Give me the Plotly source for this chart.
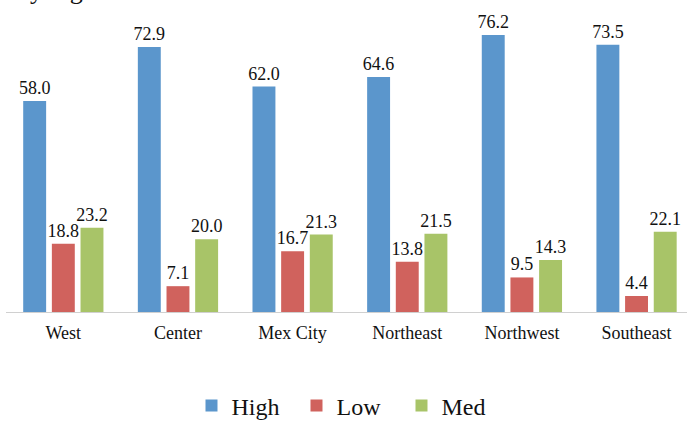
import plotly.graph_objects as go

regions = ["West", "Center", "Mex City", "Northeast", "Northwest", "Southeast"]
high = [58.0, 72.9, 62.0, 64.6, 76.2, 73.5]
low = [18.8, 7.1, 16.7, 13.8, 9.5, 4.4]
med = [23.2, 20.0, 21.3, 21.5, 14.3, 22.1]

series = [("High", high, "#5b96cc"), ("Low", low, "#d0625d"), ("Med", med, "#a8c468")]

FONT = "Liberation Serif, Times New Roman, serif"
fig = go.Figure()
for name, vals, color in series:
    fig.add_trace(go.Bar(
        name=name, x=regions, y=vals, marker=dict(color=color, line=dict(width=0)),
        text=[f"{v:.1f}" for v in vals], textposition="outside",
        textfont=dict(family=FONT, size=18, color="#111111"),
        constraintext="none", cliponaxis=False,
    ))

fig.add_annotation(text="by region", xref="paper", yref="paper", x=0, y=1,
                   xanchor="left", yanchor="bottom", yshift=-7, xshift=9, showarrow=False,
                   font=dict(family=FONT, size=26, color="#111111"))

fig.update_layout(
    width=687, height=422,
    margin=dict(l=6, r=0, t=0, b=110, autoexpand=False),
    barmode="group", bargap=0.25, bargroupgap=0.2,
    plot_bgcolor="white", paper_bgcolor="white",
    font=dict(family=FONT, color="#111111"),
    showlegend=True,
    legend=dict(orientation="h", xref="container", yref="container",
                x=0.508, xanchor="center", y=0.038, yanchor="middle",
                font=dict(family=FONT, size=24, color="#111111"), itemwidth=30,
                entrywidth=60, traceorder="normal"),
    xaxis=dict(range=[-0.5, 5.44], showline=True, linecolor="#d0d0d0", linewidth=1,
               automargin=False, ticks="", ticklabelstandoff=4,
               tickfont=dict(family=FONT, size=18), showgrid=False),
    yaxis=dict(range=[0, 85.8], visible=False, showgrid=False, zeroline=False,
               automargin=False),
)

fig.write_html("out.html")
